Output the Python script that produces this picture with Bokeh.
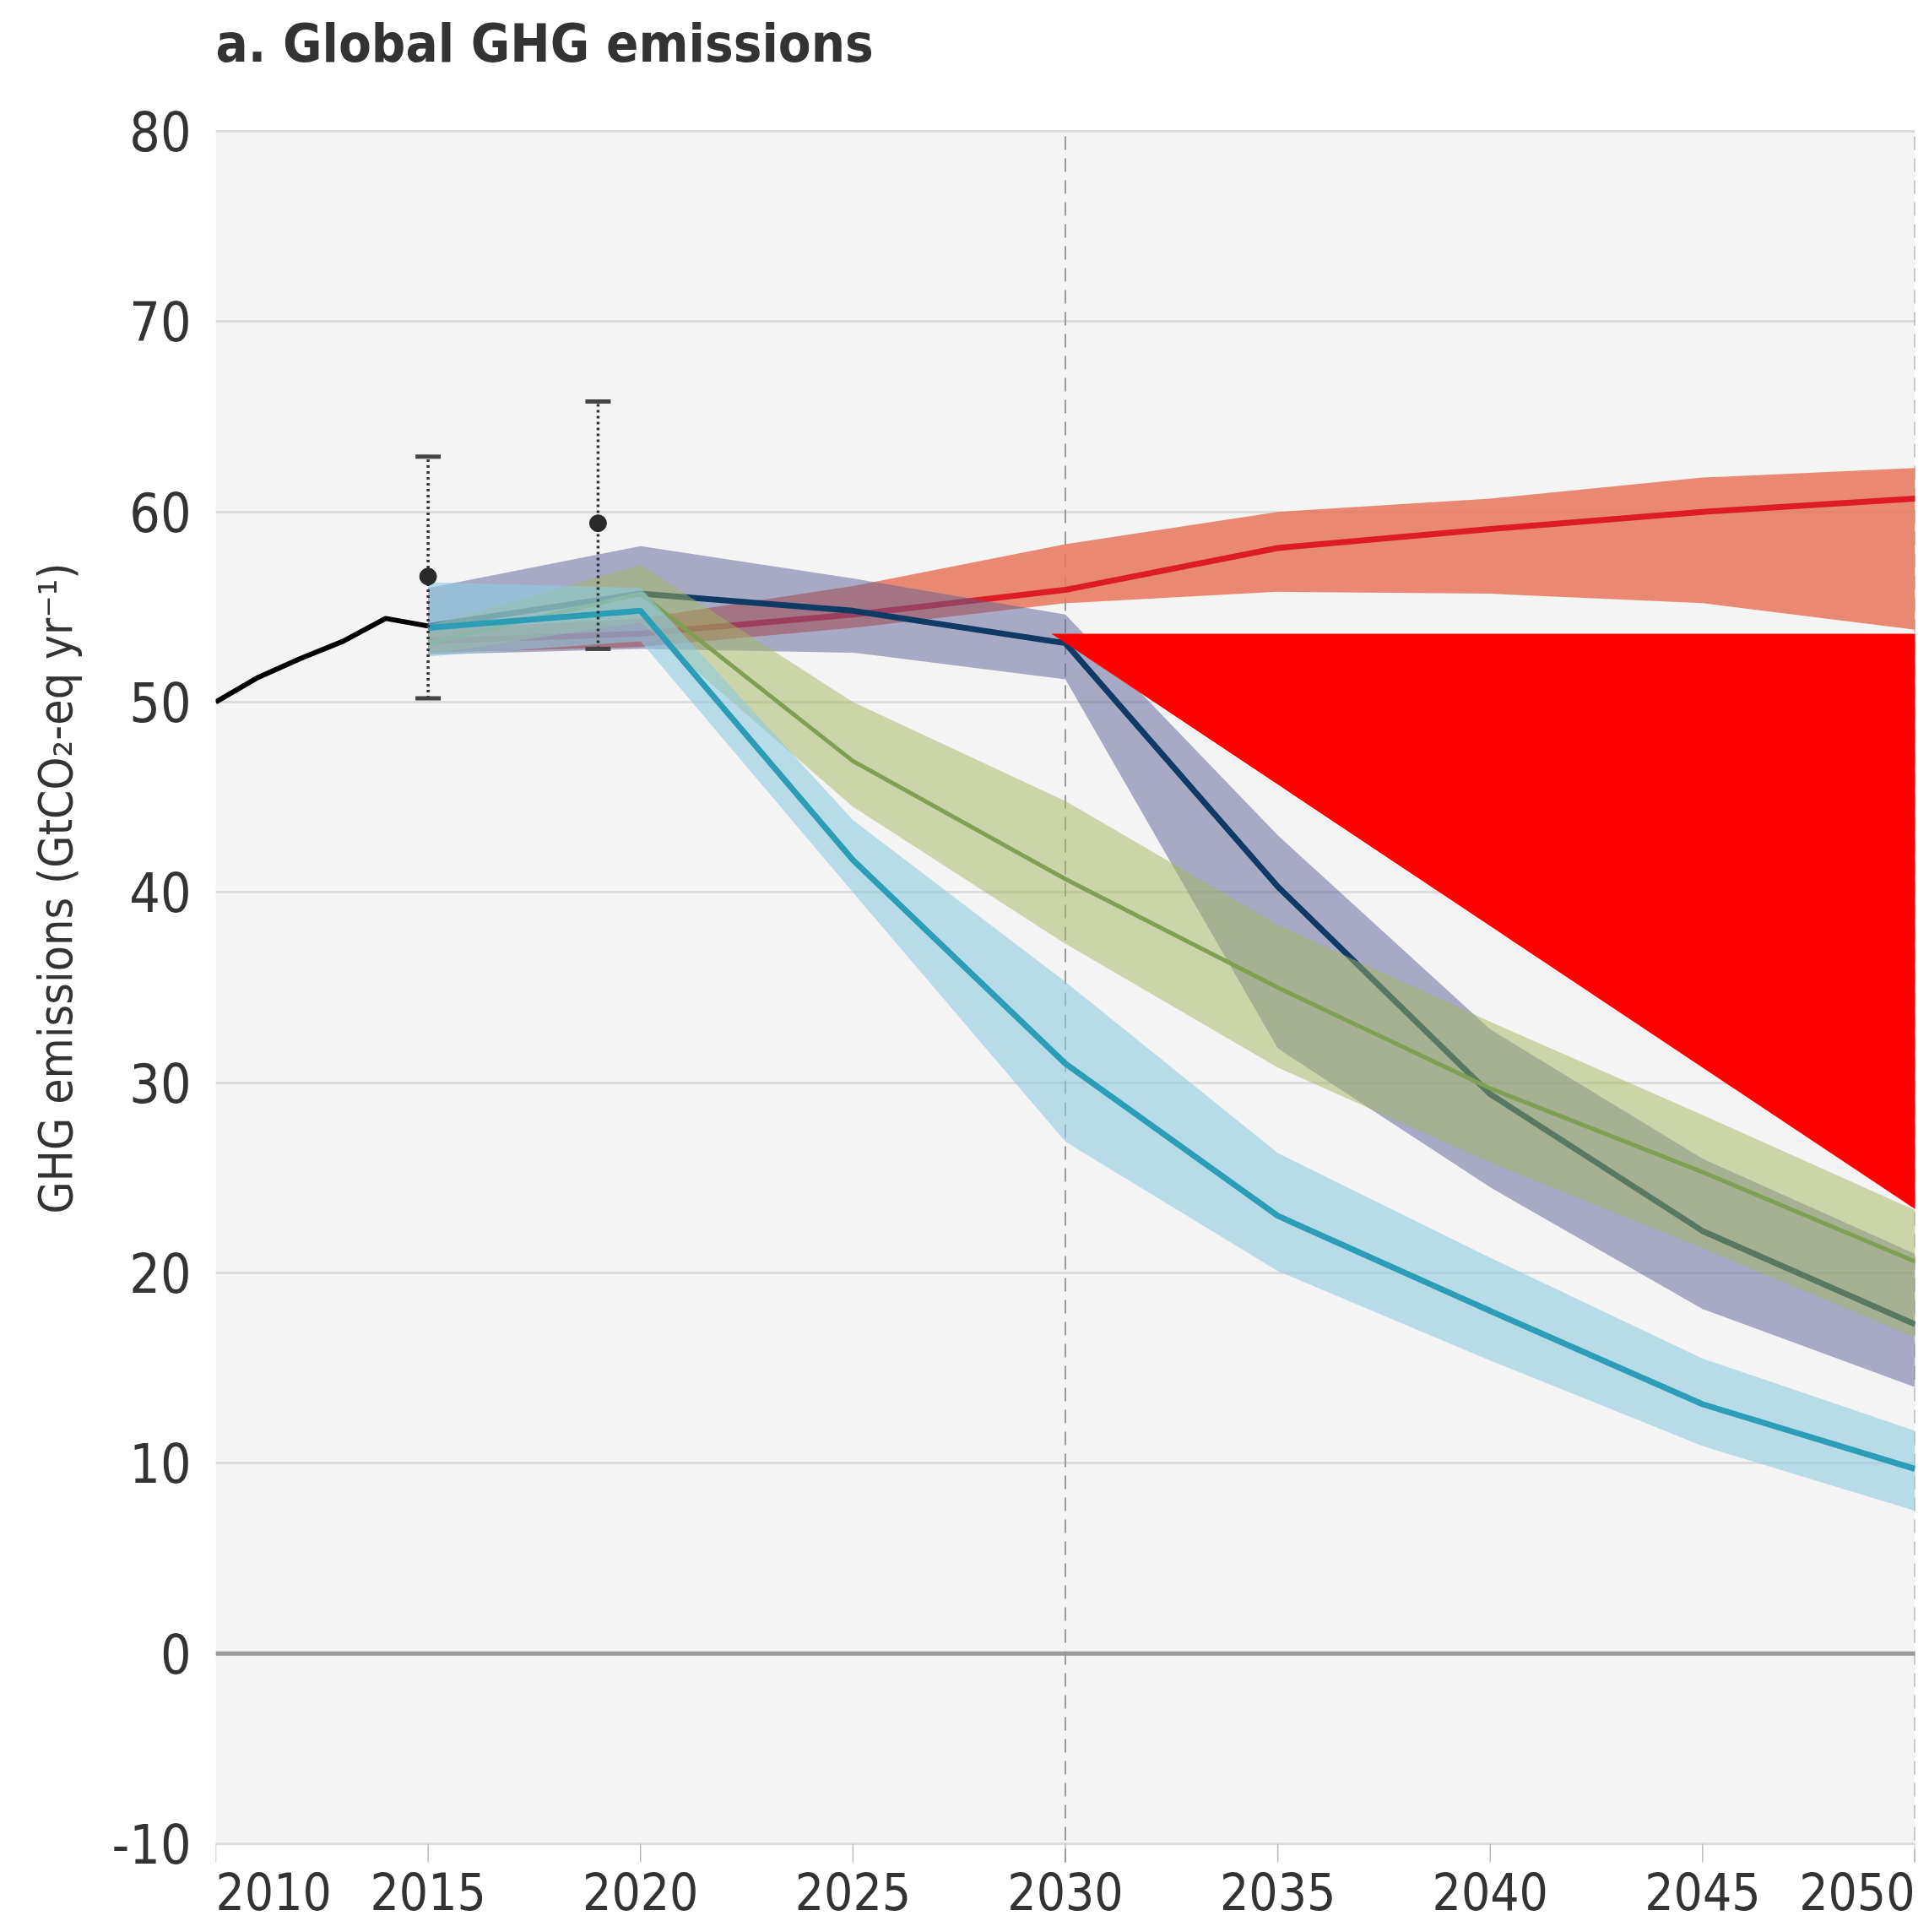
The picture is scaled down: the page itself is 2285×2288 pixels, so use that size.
from bokeh.plotting import figure
from bokeh.models import Span, FixedTicker, Range1d, BoxAnnotation, Title, ColumnDataSource
from bokeh.core.properties import value
from bokeh.embed import file_html
from bokeh.resources import INLINE

# Historical emissions (GtCO2-eq per year)
hist_years = [2010, 2011, 2012, 2013, 2014, 2015]
hist_emis = [50.0, 51.3, 52.3, 53.2, 54.4, 54.0]

# Point estimates with uncertainty ranges
est_years = [2015, 2019]
est_central = [56.6, 59.4]
est_low = [50.2, 52.8]
est_high = [62.9, 65.8]

# Scenario pathways, 5-year steps
years = [2015, 2020, 2025, 2030, 2035, 2040, 2045, 2050]

policy_mid = [53.2, 53.6, 54.6, 55.9, 58.1, 59.1, 60.0, 60.7]
policy_low = [52.6, 52.9, 53.9, 55.2, 55.8, 55.7, 55.2, 53.8]
policy_high = [53.8, 54.4, 56.1, 58.3, 60.0, 60.7, 61.8, 62.3]

ndc_mid = [54.0, 55.7, 54.8, 53.1, 40.3, 29.4, 22.2, 17.3]
ndc_low = [52.5, 52.8, 52.6, 51.2, 31.8, 24.5, 18.1, 14.0]
ndc_high = [56.0, 58.2, 56.5, 54.6, 43.0, 32.8, 26.0, 21.0]

c2_mid = [53.1, 55.7, 46.9, 40.7, 35.0, 29.7, 25.3, 20.6]
c2_low = [52.5, 54.2, 44.5, 37.3, 30.8, 25.8, 21.3, 16.6]
c2_high = [54.0, 57.2, 50.0, 44.8, 38.3, 33.2, 28.3, 23.3]

c15_mid = [53.9, 54.8, 41.7, 31.0, 23.0, 18.0, 13.1, 9.7]
c15_low = [52.4, 53.2, 40.0, 26.9, 20.1, 15.4, 10.9, 7.5]
c15_high = [56.3, 56.0, 43.8, 35.3, 26.3, 20.8, 15.5, 11.7]

# Solid red wedge over the right-hand part of the panel
wedge_x = [2029.67, 2050.1, 2050.1]
wedge_y = [53.6, 53.6, 23.2]

x_ticks = [2010, 2015, 2020, 2025, 2030, 2035, 2040, 2045, 2050]
x_labels = [str(t) for t in x_ticks]
y_ticks = [-10, 0, 10, 20, 30, 40, 50, 60, 70, 80]
marker_years = [2030, 2050]

TITLE = "a. Global GHG emissions"
Y_LABEL = "GHG emissions (GtCO\u2082-eq yr\u207b\u00b9)"

FONT = "DejaVu Sans Condensed, Roboto, sans-serif"
TXT = "#333333"

W, H = 2285, 2288
LEFT, RIGHT = 255, 17           # frame margins (px)
TOP_PAD, BOTTOM_PAD = 155, 105  # space above 80 and below -10 (px)
px_per_unit = (H - TOP_PAD - BOTTOM_PAD) / (y_ticks[-1] - y_ticks[0])
tick_len = 22 / px_per_unit

p = figure(width=W, height=H, output_backend="svg", toolbar_location=None,
           x_range=Range1d(x_ticks[0], x_ticks[-1]),
           y_range=Range1d(y_ticks[0] - BOTTOM_PAD / px_per_unit,
                           y_ticks[-1] + TOP_PAD / px_per_unit),
           min_border_left=LEFT, min_border_right=RIGHT,
           min_border_top=0, min_border_bottom=0)

p.background_fill_color = "white"
p.border_fill_color = "white"
p.outline_line_color = None

# grey plotting panel between -10 and 80
p.add_layout(BoxAnnotation(bottom=y_ticks[0], top=y_ticks[-1], fill_color="#F4F4F4",
                           fill_alpha=1.0, line_color=None, level="image"))

p.xgrid.grid_line_color = None
p.ygrid.grid_line_color = "#DCDCDC"
p.ygrid.grid_line_width = 3

p.xaxis.visible = False

# y axis
p.yaxis.ticker = FixedTicker(ticks=y_ticks)
p.yaxis.axis_line_color = None
p.yaxis.major_tick_line_color = None
p.yaxis.major_tick_out = 0
p.yaxis.major_tick_in = 0
p.yaxis.minor_tick_line_color = None
p.yaxis.minor_tick_out = 0
p.yaxis.major_label_text_font = FONT
p.yaxis.major_label_text_font_size = "64px"
p.yaxis.major_label_text_color = TXT
p.yaxis.major_label_standoff = 29
p.yaxis.major_label_overrides = {-10: "-10"}

p.add_layout(Title(text=Y_LABEL, align="left", offset=851, vertical_align="middle",
                   text_font=FONT, text_font_style="normal", text_font_size="55px",
                   text_color=TXT, standoff=62), "left")

# chart heading
p.text(x=[x_ticks[0]], y=[y_ticks[-1]], text=[TITLE], text_font=value(FONT),
       text_font_style="bold", text_font_size="63px", text_color=TXT,
       text_align="left", text_baseline="alphabetic", y_offset=-104)

# time axis: ticks and labels below the panel
p.segment(x0=x_ticks, y0=[y_ticks[0]] * len(x_ticks), x1=x_ticks,
          y1=[y_ticks[0] - tick_len] * len(x_ticks),
          line_color="#BBBBBB", line_width=1.5)
xsrc = ColumnDataSource(dict(
    x=x_ticks, y=[y_ticks[0]] * len(x_ticks), t=x_labels,
    align=["left"] + ["center"] * (len(x_ticks) - 2) + ["right"]))
p.text(x="x", y="y", text="t", source=xsrc, text_align="align", text_baseline="top",
       y_offset=33, text_font=value(FONT), text_font_size="60px", text_color=TXT)

# reference lines
p.add_layout(Span(location=0, dimension="width", line_color="#999999", line_width=5))
p.segment(x0=marker_years, y0=[y_ticks[0] - tick_len] * 2, x1=marker_years,
          y1=[y_ticks[-1]] * 2, line_color="#9A9A9A", line_width=2, line_dash="16 10")

# current policies
p.varea(x=years, y1=policy_low, y2=policy_high, fill_color="#E8765A", fill_alpha=0.85)
p.line(years, policy_mid, line_color="#DD1C24", line_width=7)

# NDC pathway
p.varea(x=years, y1=ndc_low, y2=ndc_high, fill_color="#5C5F96", fill_alpha=0.5)
p.line(years, ndc_mid, line_color="#0F3A66", line_width=7)

# 2 degC pathway
p.varea(x=years, y1=c2_low, y2=c2_high, fill_color="#A3B55F", fill_alpha=0.5)
p.line(years, c2_mid, line_color="#7FA052", line_width=5)

# 1.5 degC pathway
p.varea(x=years, y1=c15_low, y2=c15_high, fill_color="#8FCAE0", fill_alpha=0.6)
p.line(years, c15_mid, line_color="#2B9DB6", line_width=7)

# historical
p.line(hist_years, hist_emis, line_color="black", line_width=6)

# point estimates with ranges
p.segment(x0=est_years, y0=est_low, x1=est_years, y1=est_high,
          line_color="#333333", line_width=3.5, line_dash="3 4")
p.scatter(x=est_years, y=est_high, marker="dash", size=30, line_color="#444444", line_width=5)
p.scatter(x=est_years, y=est_low, marker="dash", size=30, line_color="#444444", line_width=5)
p.scatter(x=est_years, y=est_central, marker="circle", size=20,
          fill_color="#2A2A2A", line_color="#2A2A2A")

# red wedge
p.patch(wedge_x, wedge_y, fill_color="#FF0000", line_color=None)

open("out.html", "w").write(file_html(p, INLINE))
